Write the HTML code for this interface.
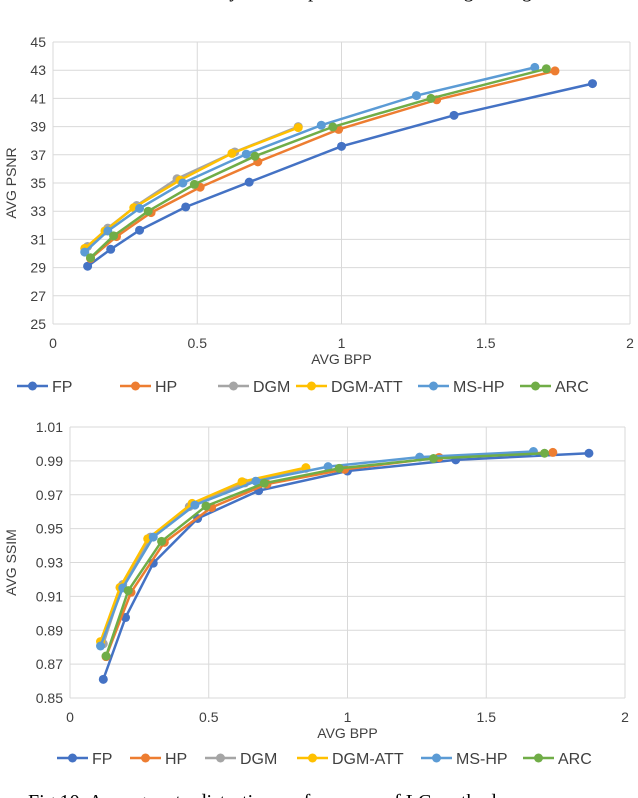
<!DOCTYPE html>
<html><head><meta charset="utf-8"><style>
html,body{margin:0;padding:0;background:#fff;width:638px;height:798px;overflow:hidden;position:relative}
svg{position:absolute;left:0;top:0}
text{font-family:"Liberation Sans",sans-serif;fill:#404040}
.cap{font-family:"Liberation Serif",serif;fill:#000}
</style></head><body>
<svg id="s" width="638" height="798">
<text class="cap" x="380" y="-3" font-size="20" text-anchor="middle">by the compared methods using average</text>
<text class="cap" x="28" y="808" font-size="20">Fig.10. Average rate-distortion performance of LC methods.</text>
</svg>
<script>
const seriesNames=["FP","HP","DGM","DGM-ATT","MS-HP","ARC"];
const colors=["#4472C4","#ED7D31","#A5A5A5","#FFC000","#5B9BD5","#70AD47"];
const fpBpp=[0.12,0.2,0.3,0.46,0.68,1.0,1.39,1.87];
const hpBpp=[0.13,0.22,0.34,0.51,0.71,0.99,1.33,1.74];
const dgmBpp=[0.12,0.19,0.29,0.43,0.63,0.85];
const attBpp=[0.11,0.18,0.28,0.44,0.62,0.85];
const mshpBpp=[0.11,0.19,0.3,0.45,0.67,0.93,1.26,1.67];
const arcBpp=[0.13,0.21,0.33,0.49,0.7,0.97,1.31,1.71];
const fpPsnr=[29.1,30.3,31.65,33.3,35.06,37.6,39.8,42.05];
const hpPsnr=[29.65,31.2,32.9,34.7,36.5,38.8,40.9,42.95];
const dgmPsnr=[30.5,31.8,33.4,35.3,37.2,39.0];
const attPsnr=[30.36,31.6,33.25,35.2,37.1,38.93];
const mshpPsnr=[30.1,31.6,33.2,35.0,37.05,39.1,41.2,43.2];
const arcPsnr=[29.7,31.25,33.0,34.9,36.9,38.98,41.0,43.1];
const fpSsim=[0.861,0.8975,0.9296,0.956,0.9724,0.984,0.9906,0.9945];
const hpSsim=[0.8744,0.9124,0.9419,0.9625,0.9763,0.985,0.992,0.995];
const dgmSsim=[0.882,0.917,0.945,0.963,0.977,0.9856];
const attSsim=[0.8833,0.9153,0.944,0.9649,0.9777,0.986];
const mshpSsim=[0.8807,0.915,0.945,0.9639,0.978,0.9866,0.9922,0.9955];
const arcSsim=[0.8748,0.9134,0.9425,0.9633,0.9768,0.9856,0.9914,0.9945];
const xTicks=["0","0.5","1","1.5","2"];
const psnrTicks=["25","27","29","31","33","35","37","39","41","43","45"];
const ssimTicks=["0.85","0.87","0.89","0.91","0.93","0.95","0.97","0.99","1.01"];

const svg=document.getElementById('s');
const NS="http://www.w3.org/2000/svg";
function mk(tag,at,parent){const e=document.createElementNS(NS,tag);for(const k in at)e.setAttribute(k,at[k]);(parent||svg).appendChild(e);return e;}

function chart(cfg){
  const g=mk('g',{});
  
  
  const X=v=>cfg.x0+(v-0)/2*(cfg.x1-cfg.x0);
  const Y=v=>cfg.y1-(v-cfg.ymin)/(cfg.ymax-cfg.ymin)*(cfg.y1-cfg.y0);
  cfg.yTicks.forEach(t=>{
    const v=parseFloat(t),y=Y(v);
    const l=mk('line',{x1:cfg.x0,x2:cfg.x1,y1:y,y2:y,stroke:'#d9d9d9','stroke-width':1},g);
    
    
    const tx=mk('text',{x:cfg.x0-7,y:y+5,'font-size':14,'text-anchor':'end'},g);tx.textContent=t;
    
    
  });
  xTicks.forEach(t=>{
    const v=parseFloat(t),x=X(v);
    const l=mk('line',{x1:x,x2:x,y1:cfg.y0,y2:cfg.y1,stroke:'#d9d9d9','stroke-width':1},g);
    
    
    const tx=mk('text',{x:x,y:cfg.y1+24,'font-size':14,'text-anchor':'middle'},g);tx.textContent=t;
    
    
  });
  const xt=mk('text',{x:(cfg.x0+cfg.x1)/2,y:cfg.y1+40,'font-size':14,'text-anchor':'middle'},g);xt.textContent="AVG BPP";
  
  
  const yt=mk('text',{x:0,y:0,'font-size':14,'text-anchor':'middle',transform:`translate(16,${(cfg.y0+cfg.y1)/2}) rotate(-90)`},g);yt.textContent=cfg.ytitle;
  
  
  cfg.series.forEach((s,i)=>{
    const pts=s.x.map((xv,j)=>X(xv)+','+Y(s.y[j])).join(' ');
    const pl=mk('polyline',{points:pts,fill:'none',stroke:colors[i],'stroke-width':2.5},g);
    
    
    s.x.forEach((xv,j)=>{
      const c=mk('circle',{cx:X(xv),cy:Y(s.y[j]),r:4.5,fill:colors[i]},g);
      
      
    });
  });
  cfg.legendX.forEach((lx,i)=>{
    const ly=cfg.legendY;
    const l=mk('line',{x1:lx,x2:lx+31,y1:ly,y2:ly,stroke:colors[i],'stroke-width':2.5},g);
    
    
    const c=mk('circle',{cx:lx+15.5,cy:ly,r:4.5,fill:colors[i]},g);
    
    
    const t=mk('text',{x:lx+35,y:ly+6,'font-size':16,fill:'#404040'},g);t.textContent=seriesNames[i];
    
    
  });
}
chart({name:'psnr-chart',x0:53,x1:630,y0:42,y1:324,ymin:25,ymax:45,yTicks:psnrTicks,ytitle:'AVG PSNR',
  series:[{x:fpBpp,y:fpPsnr},{x:hpBpp,y:hpPsnr},{x:dgmBpp,y:dgmPsnr},{x:attBpp,y:attPsnr},{x:mshpBpp,y:mshpPsnr},{x:arcBpp,y:arcPsnr}],
  legendX:[17,120,218,296,418,520],legendY:386});
chart({name:'ssim-chart',x0:70,x1:625,y0:427,y1:698,ymin:0.85,ymax:1.01,yTicks:ssimTicks,ytitle:'AVG SSIM',
  series:[{x:fpBpp,y:fpSsim},{x:hpBpp,y:hpSsim},{x:dgmBpp,y:dgmSsim},{x:attBpp,y:attSsim},{x:mshpBpp,y:mshpSsim},{x:arcBpp,y:arcSsim}],
  legendX:[57,130,205,297,421,523],legendY:758});
</script>
</body></html>
